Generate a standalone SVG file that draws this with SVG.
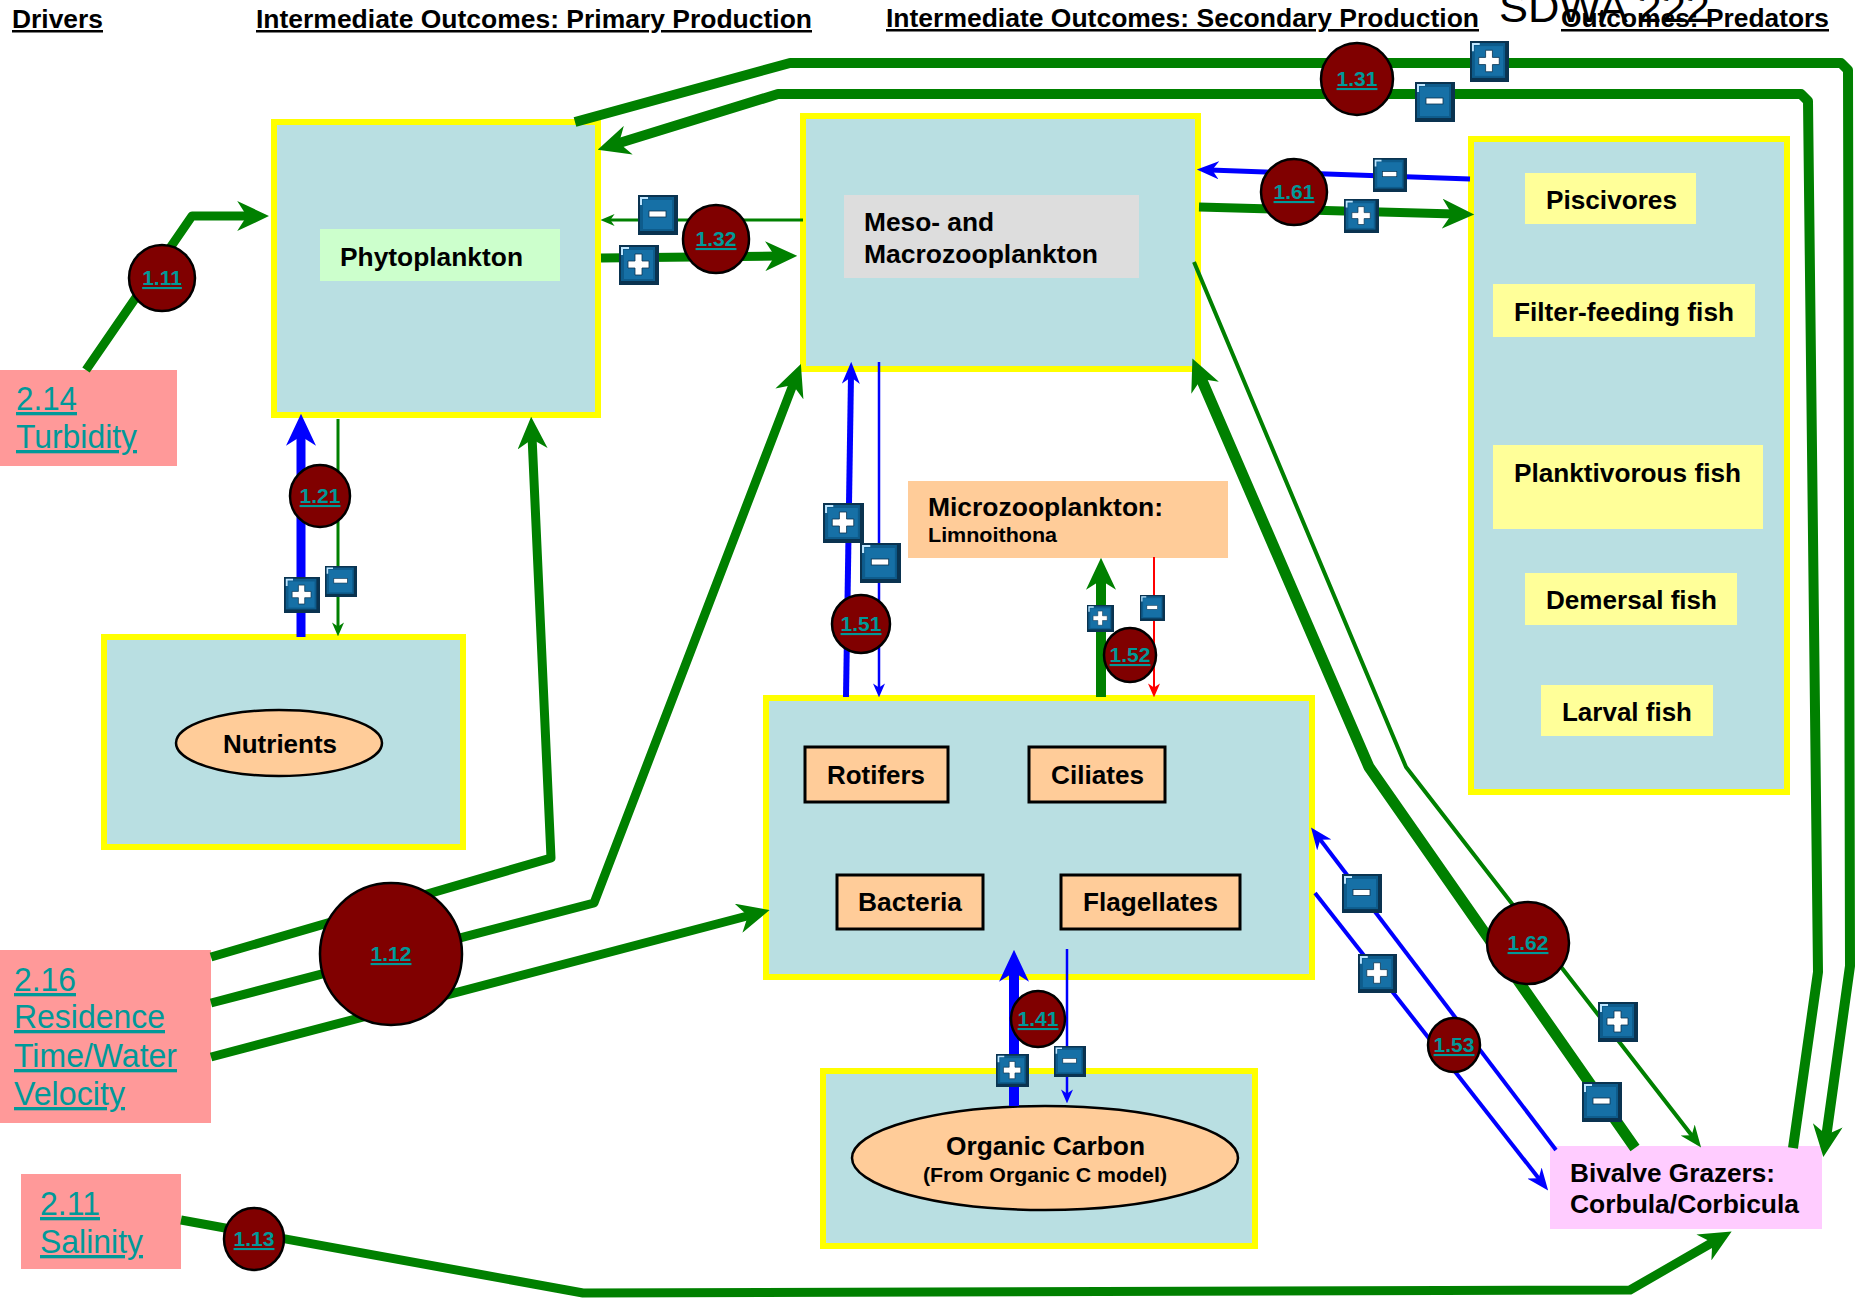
<svg xmlns="http://www.w3.org/2000/svg" xmlns:xlink="http://www.w3.org/1999/xlink" width="1864" height="1304" viewBox="0 0 1864 1304">
<style>
.box{fill:#B9DFE2;stroke:#FFFF00;stroke-width:6}
.drv{fill:#FF9999}
.drvt{font-family:"Liberation Sans Narrow","Liberation Sans",Arial,sans-serif;font-size:33px;fill:#009999;text-decoration:underline}
.hdr{font-family:"Liberation Sans Narrow","Liberation Sans",Arial,sans-serif;font-weight:bold;font-size:25px;fill:#000;text-decoration:underline}
.nt{font-family:"Liberation Sans",Arial,sans-serif;font-weight:bold;font-size:25px;fill:#000}
.ntn{font-family:"Liberation Sans Narrow","Liberation Sans",Arial,sans-serif;font-weight:bold;font-size:26px;fill:#000}
.circ{fill:#800000;stroke:#000;stroke-width:2.5}
.cl{font-family:"Liberation Sans",Arial,sans-serif;font-weight:bold;font-size:21px;fill:#009999;text-anchor:middle;text-decoration:underline}
.g{stroke:#008000;fill:none;stroke-linejoin:round}
.b{stroke:#0000FF;fill:none}
.r{stroke:#FF0000;fill:none}
.org{fill:#FFCC99}
.fish{fill:#FFFF99}
.sub{fill:#FFCC99;stroke:#000;stroke-width:3}
.ell{fill:#FFCC99;stroke:#000;stroke-width:2.5}
</style>
<defs>
<marker id="ag" viewBox="0 0 10 10" refX="4" refY="5" markerUnits="userSpaceOnUse" markerWidth="32" markerHeight="30" orient="auto" preserveAspectRatio="none"><path d="M0,0 L10,5 L0,10 L3,5z" fill="#008000"/></marker>
<marker id="agm" viewBox="0 0 10 10" refX="4" refY="5" markerUnits="userSpaceOnUse" markerWidth="22" markerHeight="18" orient="auto" preserveAspectRatio="none"><path d="M0,0 L10,5 L0,10 L3,5z" fill="#008000"/></marker>
<marker id="ags" viewBox="0 0 10 10" refX="4" refY="5" markerUnits="userSpaceOnUse" markerWidth="14" markerHeight="12" orient="auto" preserveAspectRatio="none"><path d="M0,0 L10,5 L0,10 L3,5z" fill="#008000"/></marker>
<marker id="ab" viewBox="0 0 10 10" refX="4" refY="5" markerUnits="userSpaceOnUse" markerWidth="32" markerHeight="30" orient="auto" preserveAspectRatio="none"><path d="M0,0 L10,5 L0,10 L3,5z" fill="#0000FF"/></marker>
<marker id="abm" viewBox="0 0 10 10" refX="4" refY="5" markerUnits="userSpaceOnUse" markerWidth="22" markerHeight="18" orient="auto" preserveAspectRatio="none"><path d="M0,0 L10,5 L0,10 L3,5z" fill="#0000FF"/></marker>
<marker id="abs" viewBox="0 0 10 10" refX="4" refY="5" markerUnits="userSpaceOnUse" markerWidth="14" markerHeight="12" orient="auto" preserveAspectRatio="none"><path d="M0,0 L10,5 L0,10 L3,5z" fill="#0000FF"/></marker>
<marker id="ars" viewBox="0 0 10 10" refX="4" refY="5" markerUnits="userSpaceOnUse" markerWidth="14" markerHeight="12" orient="auto" preserveAspectRatio="none"><path d="M0,0 L10,5 L0,10 L3,5z" fill="#FF0000"/></marker>
<symbol id="plus" viewBox="0 0 40 40" preserveAspectRatio="none">
<rect width="40" height="40" fill="#0A3350"/>
<rect x="2" y="2" width="34" height="34" fill="#0E5C8C"/>
<rect x="5" y="5" width="29" height="29" fill="#1670A6"/>
<path d="M2,2 h8 v2 h-6 v6 h-2z" fill="#BFE6FF"/>
<path d="M16,9 h7 v7 h7 v7 h-7 v7 h-7 v-7 h-7 v-7 h7z" fill="#FFFFFF" stroke="#0A3350" stroke-width="0.8"/>
</symbol>
<symbol id="minus" viewBox="0 0 40 40" preserveAspectRatio="none">
<rect width="40" height="40" fill="#0A3350"/>
<rect x="2" y="2" width="34" height="34" fill="#0E5C8C"/>
<rect x="5" y="5" width="29" height="29" fill="#1670A6"/>
<path d="M2,2 h8 v2 h-6 v6 h-2z" fill="#BFE6FF"/>
<rect x="11" y="16" width="17" height="6" fill="#FFFFFF" stroke="#0A3350" stroke-width="0.8"/>
</symbol>
</defs>
<rect width="1864" height="1304" fill="#FFFFFF"/>

<g id="headers">
<text class="hdr" x="12" y="28" textLength="91" lengthAdjust="spacingAndGlyphs">Drivers</text>
<text class="hdr" x="256" y="28" textLength="556" lengthAdjust="spacingAndGlyphs">Intermediate Outcomes: Primary Production</text>
<text class="hdr" x="886" y="27" textLength="593" lengthAdjust="spacingAndGlyphs">Intermediate Outcomes: Secondary Production</text>
<text x="1499" y="22" textLength="211" lengthAdjust="spacingAndGlyphs" font-family="Liberation Sans, Arial, sans-serif" font-size="42" fill="#000">SDWA 222</text>
<text class="hdr" x="1561" y="27" textLength="268" lengthAdjust="spacingAndGlyphs">Outcomes: Predators</text>
</g>

<g id="nodes">
<g id="driver-turbidity">
<rect class="drv" x="0" y="370" width="177" height="96"/>
<text class="drvt" x="16" y="410" textLength="61" lengthAdjust="spacingAndGlyphs">2.14</text>
<text class="drvt" x="16" y="448" textLength="121" lengthAdjust="spacingAndGlyphs">Turbidity</text>
</g>
<g id="driver-residence">
<rect class="drv" x="0" y="950" width="211" height="173"/>
<text class="drvt" x="14" y="991" textLength="62" lengthAdjust="spacingAndGlyphs">2.16</text>
<text class="drvt" x="14" y="1028" textLength="151" lengthAdjust="spacingAndGlyphs">Residence</text>
<text class="drvt" x="14" y="1067" textLength="163" lengthAdjust="spacingAndGlyphs">Time/Water</text>
<text class="drvt" x="14" y="1105" textLength="111" lengthAdjust="spacingAndGlyphs">Velocity</text>
</g>
<g id="driver-salinity">
<rect class="drv" x="21" y="1174" width="160" height="95"/>
<text class="drvt" x="40" y="1215" textLength="60" lengthAdjust="spacingAndGlyphs">2.11</text>
<text class="drvt" x="40" y="1253" textLength="103" lengthAdjust="spacingAndGlyphs">Salinity</text>
</g>

<g id="phytoplankton">
<rect class="box" x="274" y="122" width="324" height="293"/>
<rect x="320" y="229" width="240" height="52" fill="#CCFFCC"/>
<text class="nt" x="340" y="266" textLength="183" lengthAdjust="spacingAndGlyphs">Phytoplankton</text>
</g>
<g id="mesozooplankton">
<rect class="box" x="803" y="116" width="395" height="253"/>
<rect x="844" y="195" width="295" height="83" fill="#DDDDDD"/>
<text class="nt" x="864" y="231" textLength="130" lengthAdjust="spacingAndGlyphs">Meso- and</text>
<text class="nt" x="864" y="263" textLength="234" lengthAdjust="spacingAndGlyphs">Macrozooplankton</text>
</g>
<g id="predators">
<rect class="box" x="1471" y="139" width="316" height="653"/>
<g id="piscivores"><rect class="fish" x="1525" y="173" width="171" height="51"/>
<text class="nt" x="1546" y="209" textLength="131" lengthAdjust="spacingAndGlyphs">Piscivores</text></g>
<g id="filter-feeding"><rect class="fish" x="1493" y="284" width="262" height="53"/>
<text class="nt" x="1514" y="321" textLength="220" lengthAdjust="spacingAndGlyphs">Filter-feeding fish</text></g>
<g id="planktivorous"><rect class="fish" x="1493" y="445" width="270" height="84"/>
<text class="nt" x="1514" y="482" textLength="227" lengthAdjust="spacingAndGlyphs">Planktivorous fish</text></g>
<g id="demersal"><rect class="fish" x="1525" y="573" width="212" height="52"/>
<text class="nt" x="1546" y="609" textLength="171" lengthAdjust="spacingAndGlyphs">Demersal fish</text></g>
<g id="larval"><rect class="fish" x="1541" y="685" width="172" height="51"/>
<text class="nt" x="1562" y="721" textLength="130" lengthAdjust="spacingAndGlyphs">Larval fish</text></g>
</g>
<g id="nutrients">
<rect class="box" x="104" y="637" width="359" height="210"/>
<ellipse class="ell" cx="279" cy="743" rx="103" ry="33"/>
<text class="ntn" x="223" y="753" textLength="114" lengthAdjust="spacingAndGlyphs">Nutrients</text>
</g>
<g id="microzooplankton">
<rect class="org" x="908" y="481" width="320" height="77"/>
<text class="nt" x="928" y="516" textLength="235" lengthAdjust="spacingAndGlyphs">Microzooplankton:</text>
<text class="nt" x="928" y="542" font-size="20" style="font-size:20px" textLength="129" lengthAdjust="spacingAndGlyphs">Limnoithona</text>
</g>
<g id="microbial">
<rect class="box" x="766" y="698" width="546" height="279"/>
<g id="rotifers"><rect class="sub" x="805" y="747" width="143" height="55"/>
<text class="nt" x="827" y="784" textLength="98" lengthAdjust="spacingAndGlyphs">Rotifers</text></g>
<g id="ciliates"><rect class="sub" x="1029" y="747" width="136" height="55"/>
<text class="nt" x="1051" y="784" textLength="93" lengthAdjust="spacingAndGlyphs">Ciliates</text></g>
<g id="bacteria"><rect class="sub" x="837" y="875" width="146" height="54"/>
<text class="nt" x="858" y="911" textLength="104" lengthAdjust="spacingAndGlyphs">Bacteria</text></g>
<g id="flagellates"><rect class="sub" x="1061" y="875" width="179" height="54"/>
<text class="nt" x="1083" y="911" textLength="135" lengthAdjust="spacingAndGlyphs">Flagellates</text></g>
</g>
<g id="organic-carbon">
<rect class="box" x="823" y="1071" width="432" height="175"/>
<ellipse class="ell" cx="1045" cy="1158" rx="193" ry="52"/>
<text class="ntn" x="946" y="1155" textLength="199" lengthAdjust="spacingAndGlyphs">Organic Carbon</text>
<text class="ntn" x="923" y="1182" style="font-size:20px" textLength="244" lengthAdjust="spacingAndGlyphs">(From Organic C model)</text>
</g>
<g id="bivalves">
<rect x="1550" y="1146" width="272" height="83" fill="#FFCCFF"/>
<text class="nt" x="1570" y="1182" textLength="205" lengthAdjust="spacingAndGlyphs">Bivalve Grazers:</text>
<text class="nt" x="1570" y="1213" textLength="229" lengthAdjust="spacingAndGlyphs">Corbula/Corbicula</text>
</g>
</g>

<g id="connectors">
<path id="c111" class="g" stroke-width="9" d="M86,370 L192,216 L250,216" marker-end="url(#ag)"/>
<path id="c131a" class="g" stroke-width="10" d="M575,122 L790,63 L1841,63 L1848,70 L1850,966 L1826,1138" marker-end="url(#ag)"/>
<path id="c131b" class="g" stroke-width="10" d="M1793,1148 L1818,972 L1808,101 L1801,94 L778,94 L616,144" marker-end="url(#ag)"/>
<path id="c132a" class="g" stroke-width="3" d="M803,220 L609,220" marker-end="url(#ags)"/>
<path id="c132b" class="g" stroke-width="9" d="M601,258 L778,256" marker-end="url(#ag)"/>
<path id="c121a" class="b" stroke-width="9" d="M301,637 L301,433" marker-end="url(#ab)"/>
<path id="c121b" class="g" stroke-width="3" d="M338,419 L338,628" marker-end="url(#ags)"/>
<path id="c112a" class="g" stroke-width="9" d="M211,957 L551,858 L532,436" marker-end="url(#ag)"/>
<path id="c112b" class="g" stroke-width="9" d="M211,1003 L594,903 L794,382" marker-end="url(#ag)"/>
<path id="c112c" class="g" stroke-width="9" d="M211,1057 L751,915" marker-end="url(#ag)"/>
<path id="c113" class="g" stroke-width="9" d="M181,1220 L583,1293 L1630,1290 L1715,1241" marker-end="url(#ag)"/>
<path id="c161a" class="b" stroke-width="5" d="M1470,179 L1210,170" marker-end="url(#abm)"/>
<path id="c161b" class="g" stroke-width="9" d="M1199,207 L1455,214" marker-end="url(#ag)"/>
<path id="c151a" class="b" stroke-width="6" d="M846,697 L851,375" marker-end="url(#abm)"/>
<path id="c151b" class="b" stroke-width="2.5" d="M879,362 L879,689" marker-end="url(#abs)"/>
<path id="c152a" class="g" stroke-width="10" d="M1101,697 L1101,577" marker-end="url(#ag)"/>
<path id="c152b" class="r" stroke-width="2" d="M1154,557 L1154,689" marker-end="url(#ars)"/>
<path id="c141a" class="b" stroke-width="10" d="M1014,1106 L1014,969" marker-end="url(#ab)"/>
<path id="c141b" class="b" stroke-width="2.5" d="M1067,949 L1067,1095" marker-end="url(#abs)"/>
<path id="c153a" class="b" stroke-width="4" d="M1556,1150 L1319,838" marker-end="url(#abm)"/>
<path id="c153b" class="b" stroke-width="4" d="M1315,893 L1540,1180" marker-end="url(#abm)"/>
<path id="c162a" class="g" stroke-width="11" d="M1635,1148 L1369,767 L1200,376" marker-end="url(#ag)"/>
<path id="c162b" class="g" stroke-width="4" d="M1194,262 L1406,767 L1693,1137" marker-end="url(#agm)"/>
</g>

<g id="links">
<g id="l111"><ellipse class="circ" cx="162" cy="278" rx="33" ry="33"/><text class="cl" x="162" y="285">1.11</text></g>
<g id="l121"><ellipse class="circ" cx="320" cy="496" rx="30" ry="31"/><text class="cl" x="320" y="503">1.21</text></g>
<g id="l112"><ellipse class="circ" cx="391" cy="954" rx="71" ry="71"/><text class="cl" x="391" y="961">1.12</text></g>
<g id="l113"><ellipse class="circ" cx="254" cy="1239" rx="30" ry="31"/><text class="cl" x="254" y="1246">1.13</text></g>
<g id="l132"><ellipse class="circ" cx="716" cy="239" rx="33" ry="34"/><text class="cl" x="716" y="246">1.32</text></g>
<g id="l131"><ellipse class="circ" cx="1357" cy="79" rx="36" ry="36"/><text class="cl" x="1357" y="86">1.31</text></g>
<g id="l161"><ellipse class="circ" cx="1294" cy="192" rx="33" ry="33"/><text class="cl" x="1294" y="199">1.61</text></g>
<g id="l151"><ellipse class="circ" cx="861" cy="624" rx="29" ry="29"/><text class="cl" x="861" y="631">1.51</text></g>
<g id="l152"><ellipse class="circ" cx="1130" cy="655" rx="26" ry="27"/><text class="cl" x="1130" y="662">1.52</text></g>
<g id="l141"><ellipse class="circ" cx="1038" cy="1019" rx="27" ry="28"/><text class="cl" x="1038" y="1026">1.41</text></g>
<g id="l153"><ellipse class="circ" cx="1454" cy="1045" rx="26" ry="27"/><text class="cl" x="1454" y="1052">1.53</text></g>
<g id="l162"><ellipse class="circ" cx="1528" cy="943" rx="41" ry="41"/><text class="cl" x="1528" y="950">1.62</text></g>
</g>

<g id="signs">
<use href="#plus" x="1470" y="41" width="39" height="41"/>
<use href="#minus" x="1415" y="82" width="40" height="40"/>
<use href="#minus" x="638" y="195" width="40" height="40"/>
<use href="#plus" x="619" y="245" width="40" height="40"/>
<use href="#minus" x="1373" y="158" width="34" height="34"/>
<use href="#plus" x="1344" y="199" width="35" height="34"/>
<use href="#plus" x="284" y="577" width="36" height="36"/>
<use href="#minus" x="325" y="566" width="32" height="31"/>
<use href="#plus" x="823" y="503" width="41" height="40"/>
<use href="#minus" x="860" y="543" width="41" height="40"/>
<use href="#plus" x="1087" y="605" width="27" height="27"/>
<use href="#minus" x="1140" y="595" width="25" height="26"/>
<use href="#plus" x="996" y="1054" width="33" height="33"/>
<use href="#minus" x="1054" y="1046" width="32" height="31"/>
<use href="#minus" x="1342" y="874" width="40" height="39"/>
<use href="#plus" x="1358" y="954" width="39" height="39"/>
<use href="#plus" x="1598" y="1002" width="40" height="40"/>
<use href="#minus" x="1582" y="1082" width="40" height="40"/>
</g>
</svg>
